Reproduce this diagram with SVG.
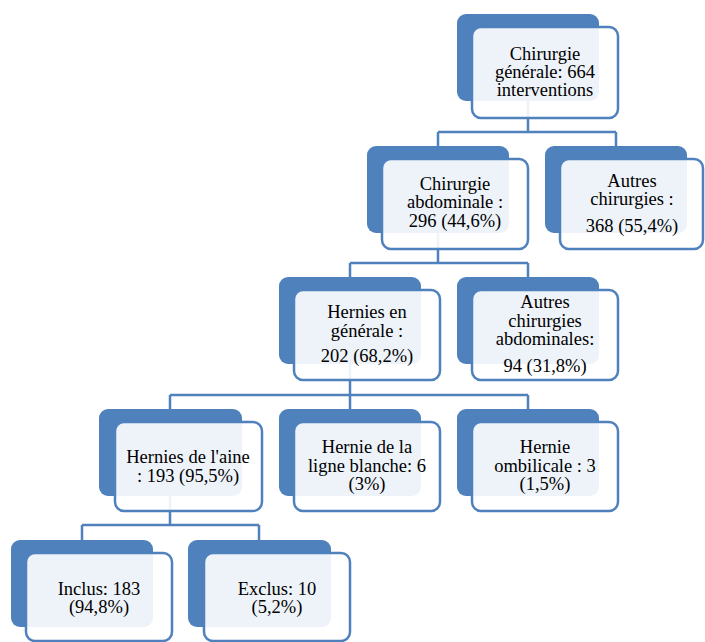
<svg xmlns="http://www.w3.org/2000/svg" width="705" height="642" viewBox="0 0 705 642">
<rect width="705" height="642" fill="#ffffff"/>
<g id="connectors" fill="none" stroke="#4f81bd" stroke-width="2.5">
<path d="M528,100 V132 M438,132 H616 M438,132 V146 M616,132 V146"/>
<path d="M438,232 V263 M350,263 H528 M350,263 V277 M528,263 V277"/>
<path d="M350,363 V395 M170,395 H528 M170,395 V409 M350,395 V409 M528,395 V409"/>
<path d="M170,495 V525 M82,525 H259 M82,525 V540 M259,525 V540"/>
</g>
<g id="backs" fill="#4f81bd">
<rect id="b1" x="457" y="14" width="142" height="87" rx="9"/>
<rect id="b2" x="367" y="146" width="142" height="87" rx="9"/>
<rect id="b3" x="545" y="146" width="142" height="87" rx="9"/>
<rect id="b4" x="279" y="277" width="142" height="87" rx="9"/>
<rect id="b5" x="457" y="277" width="142" height="87" rx="9"/>
<rect id="b6" x="99" y="409" width="143" height="87" rx="9"/>
<rect id="b7" x="279" y="409" width="142" height="87" rx="9"/>
<rect id="b8" x="457" y="409" width="142" height="87" rx="9"/>
<rect id="b9" x="11" y="540" width="142" height="87" rx="9"/>
<rect id="b10" x="188" y="540" width="143" height="87" rx="9"/>
</g>
<g id="nodes" fill="#ffffff" fill-opacity="0.9" stroke="#4f81bd" stroke-width="2.5">
<g id="n1">
<rect x="472" y="27" width="146" height="91" rx="9"/>
<text font-family="Liberation Serif" font-size="18.5" text-anchor="middle" fill="#000000" fill-opacity="1" stroke="none" x="545" y="60">Chirurgie</text>
<text font-family="Liberation Serif" font-size="18.5" text-anchor="middle" fill="#000000" fill-opacity="1" stroke="none" x="545" y="78">générale: 664</text>
<text font-family="Liberation Serif" font-size="18.5" text-anchor="middle" fill="#000000" fill-opacity="1" stroke="none" x="545" y="96">interventions</text>
</g>
<g id="n2">
<rect x="382" y="159" width="146" height="90" rx="9"/>
<text font-family="Liberation Serif" font-size="18.5" text-anchor="middle" fill="#000000" fill-opacity="1" stroke="none" x="455" y="190">Chirurgie</text>
<text font-family="Liberation Serif" font-size="18.5" text-anchor="middle" fill="#000000" fill-opacity="1" stroke="none" x="455" y="208">abdominale :</text>
<text font-family="Liberation Serif" font-size="18.5" text-anchor="middle" fill="#000000" fill-opacity="1" stroke="none" x="455" y="227">296 (44,6%)</text>
</g>
<g id="n3">
<rect x="560" y="159" width="143" height="90" rx="9"/>
<text font-family="Liberation Serif" font-size="18.5" text-anchor="middle" fill="#000000" fill-opacity="1" stroke="none" x="632" y="187">Autres</text>
<text font-family="Liberation Serif" font-size="18.5" text-anchor="middle" fill="#000000" fill-opacity="1" stroke="none" x="632" y="205">chirurgies :</text>
<text font-family="Liberation Serif" font-size="18.5" text-anchor="middle" fill="#000000" fill-opacity="1" stroke="none" x="632" y="232">368 (55,4%)</text>
</g>
<g id="n4">
<rect x="294" y="290" width="146" height="90" rx="9"/>
<text font-family="Liberation Serif" font-size="18.5" text-anchor="middle" fill="#000000" fill-opacity="1" stroke="none" x="367" y="318">Hernies en</text>
<text font-family="Liberation Serif" font-size="18.5" text-anchor="middle" fill="#000000" fill-opacity="1" stroke="none" x="367" y="337">générale :</text>
<text font-family="Liberation Serif" font-size="18.5" text-anchor="middle" fill="#000000" fill-opacity="1" stroke="none" x="367" y="362">202 (68,2%)</text>
</g>
<g id="n5">
<rect x="472" y="290" width="146" height="90" rx="9"/>
<text font-family="Liberation Serif" font-size="18.5" text-anchor="middle" fill="#000000" fill-opacity="1" stroke="none" x="545" y="308">Autres</text>
<text font-family="Liberation Serif" font-size="18.5" text-anchor="middle" fill="#000000" fill-opacity="1" stroke="none" x="545" y="327">chirurgies</text>
<text font-family="Liberation Serif" font-size="18.5" text-anchor="middle" fill="#000000" fill-opacity="1" stroke="none" x="545" y="345">abdominales:</text>
<text font-family="Liberation Serif" font-size="18.5" text-anchor="middle" fill="#000000" fill-opacity="1" stroke="none" x="545" y="372">94 (31,8%)</text>
</g>
<g id="n6">
<rect x="115" y="422" width="147" height="89" rx="9"/>
<text font-family="Liberation Serif" font-size="18.5" text-anchor="middle" fill="#000000" fill-opacity="1" stroke="none" x="188" y="463">Hernies de l'aine</text>
<text font-family="Liberation Serif" font-size="18.5" text-anchor="middle" fill="#000000" fill-opacity="1" stroke="none" x="188" y="482">: 193 (95,5%)</text>
</g>
<g id="n7">
<rect x="294" y="422" width="146" height="89" rx="9"/>
<text font-family="Liberation Serif" font-size="18.5" text-anchor="middle" fill="#000000" fill-opacity="1" stroke="none" x="367" y="453">Hernie de la</text>
<text font-family="Liberation Serif" font-size="18.5" text-anchor="middle" fill="#000000" fill-opacity="1" stroke="none" x="367" y="472">ligne blanche: 6</text>
<text font-family="Liberation Serif" font-size="18.5" text-anchor="middle" fill="#000000" fill-opacity="1" stroke="none" x="367" y="490">(3%)</text>
</g>
<g id="n8">
<rect x="472" y="422" width="146" height="89" rx="9"/>
<text font-family="Liberation Serif" font-size="18.5" text-anchor="middle" fill="#000000" fill-opacity="1" stroke="none" x="545" y="453">Hernie</text>
<text font-family="Liberation Serif" font-size="18.5" text-anchor="middle" fill="#000000" fill-opacity="1" stroke="none" x="545" y="472">ombilicale : 3</text>
<text font-family="Liberation Serif" font-size="18.5" text-anchor="middle" fill="#000000" fill-opacity="1" stroke="none" x="545" y="490">(1,5%)</text>
</g>
<g id="n9">
<rect x="26" y="553" width="146" height="88" rx="9"/>
<text font-family="Liberation Serif" font-size="18.5" text-anchor="middle" fill="#000000" fill-opacity="1" stroke="none" x="99" y="595">Inclus: 183</text>
<text font-family="Liberation Serif" font-size="18.5" text-anchor="middle" fill="#000000" fill-opacity="1" stroke="none" x="99" y="613">(94,8%)</text>
</g>
<g id="n10">
<rect x="204" y="553" width="146" height="88" rx="9"/>
<text font-family="Liberation Serif" font-size="18.5" text-anchor="middle" fill="#000000" fill-opacity="1" stroke="none" x="277" y="595">Exclus: 10</text>
<text font-family="Liberation Serif" font-size="18.5" text-anchor="middle" fill="#000000" fill-opacity="1" stroke="none" x="277" y="613">(5,2%)</text>
</g>
</g>
</svg>
